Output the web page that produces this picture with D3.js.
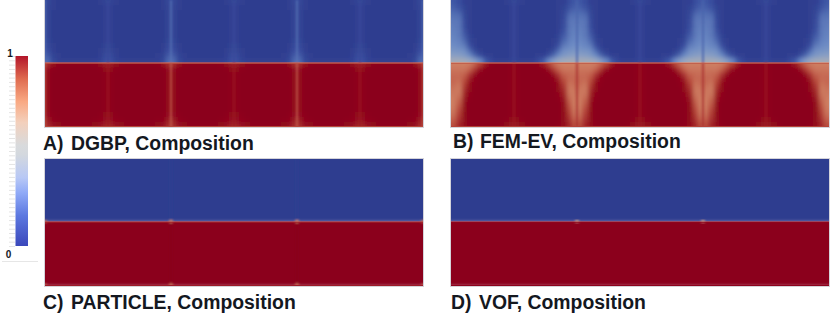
<!DOCTYPE html>
<html>
<head>
<meta charset="utf-8">
<style>
  body { margin: 0; background: #fff; }
  text { font-family: "Liberation Sans", sans-serif; fill: #14181f; }
</style>
<script src="https://d3js.org/d3.v7.min.js"></script>
</head>
<body>
<div id="chart"></div>
<script>
// half of one repeating tile, composition in percent. columns run away from the tile edge, rows top to bottom
const dgbpTile = [
  [5, 1, 0, 0, 0, 0, 0, 0, 0, 0, 1, 3],
  [4, 1, 0, 0, 0, 0, 0, 0, 0, 0, 0, 2],
  [4, 0, 0, 0, 0, 0, 0, 0, 0, 0, 0, 2],
  [4, 0, 0, 0, 0, 0, 0, 0, 0, 0, 0, 2],
  [4, 0, 0, 0, 0, 0, 0, 0, 0, 0, 0, 2],
  [4, 0, 0, 0, 0, 0, 0, 0, 0, 0, 0, 2],
  [4, 0, 0, 0, 0, 0, 0, 0, 0, 0, 0, 2],
  [4, 0, 0, 0, 0, 0, 0, 0, 0, 0, 0, 2],
  [5, 0, 0, 0, 0, 0, 0, 0, 0, 0, 0, 2],
  [6, 1, 0, 0, 0, 0, 0, 0, 0, 0, 0, 3],
  [8, 2, 0, 0, 0, 0, 0, 0, 0, 0, 1, 4],
  [12, 3, 1, 0, 0, 0, 0, 0, 0, 0, 2, 6],
  [16, 5, 2, 1, 1, 1, 1, 1, 1, 2, 3, 8],
  [90, 96, 98, 99, 99, 99, 99, 99, 99, 98, 97, 93],
  [95, 99, 100, 100, 100, 100, 100, 100, 100, 100, 99, 97],
  [96, 100, 100, 100, 100, 100, 100, 100, 100, 100, 100, 98],
  [96, 100, 100, 100, 100, 100, 100, 100, 100, 100, 100, 98],
  [96, 100, 100, 100, 100, 100, 100, 100, 100, 100, 100, 98],
  [96, 100, 100, 100, 100, 100, 100, 100, 100, 100, 100, 98],
  [96, 100, 100, 100, 100, 100, 100, 100, 100, 100, 100, 98],
  [96, 100, 100, 100, 100, 100, 100, 100, 100, 100, 100, 98],
  [96, 100, 100, 100, 100, 100, 100, 100, 100, 100, 100, 98],
  [96, 100, 100, 100, 100, 100, 100, 100, 100, 100, 100, 98],
  [95, 99, 100, 100, 100, 100, 100, 100, 100, 100, 99, 97],
  [93, 98, 99, 100, 100, 100, 100, 100, 100, 99, 98, 95],
  [90, 95, 97, 98, 98, 98, 98, 98, 98, 97, 95, 92]
]
const femTile = [
  [11, 7, 2, 1, 0, 0, 0, 0, 0, 0, 1, 3],
  [13, 9, 3, 1, 0, 0, 0, 0, 0, 0, 0, 2],
  [16, 13, 4, 1, 0, 0, 0, 0, 0, 0, 0, 2],
  [18, 17, 5, 1, 0, 0, 0, 0, 0, 0, 0, 2],
  [20, 19, 6, 1, 0, 0, 0, 0, 0, 0, 0, 2],
  [21, 19, 7, 1, 0, 0, 0, 0, 0, 0, 0, 2],
  [22, 20, 9, 2, 0, 0, 0, 0, 0, 0, 0, 2],
  [23, 20, 12, 3, 0, 0, 0, 0, 0, 0, 0, 2],
  [24, 22, 15, 4, 1, 0, 0, 0, 0, 0, 0, 2],
  [26, 24, 20, 8, 2, 0, 0, 0, 0, 0, 0, 2],
  [30, 29, 26, 16, 5, 1, 0, 0, 0, 0, 0, 2],
  [36, 35, 32, 25, 15, 7, 2, 1, 0, 0, 0, 2],
  [46, 46, 45, 42, 35, 24, 11, 5, 2, 1, 1, 3],
  [74, 74, 74, 75, 80, 87, 94, 98, 100, 100, 100, 98],
  [76, 76, 76, 80, 88, 95, 99, 100, 100, 100, 100, 98],
  [78, 78, 80, 88, 95, 99, 100, 100, 100, 100, 100, 98],
  [79, 78, 84, 93, 98, 100, 100, 100, 100, 100, 100, 98],
  [78, 76, 87, 96, 99, 100, 100, 100, 100, 100, 100, 98],
  [76, 75, 90, 97, 100, 100, 100, 100, 100, 100, 100, 98],
  [75, 76, 92, 98, 100, 100, 100, 100, 100, 100, 100, 98],
  [74, 79, 94, 99, 100, 100, 100, 100, 100, 100, 100, 98],
  [74, 82, 96, 100, 100, 100, 100, 100, 100, 100, 100, 98],
  [75, 85, 97, 100, 100, 100, 100, 100, 100, 100, 100, 98],
  [77, 87, 97, 100, 100, 100, 100, 100, 100, 100, 100, 98],
  [80, 89, 97, 100, 100, 100, 100, 100, 100, 100, 99, 97],
  [84, 91, 96, 98, 100, 100, 100, 100, 100, 99, 97, 94]
]
const particleTile = [[0], [100]]
const vofTile = [[0], [100]]

// element seams: [element index, value above the interface, value below it]
const dgbpSeams = [[0, 16, 82], [1, 6, 93], [2, 18, 80], [3, 6, 93], [4, 18, 80], [5, 6, 93], [6, 16, 82]]
const femSeams = [[1, 6, 93], [2, 14, 90], [3, 6, 93], [4, 14, 90], [5, 6, 93]]
const particleSeams = [[2, 2, 100], [4, 2, 100]]
const vofSeams = []

// small blemishes: [element index, 0 interface / 1 bottom edge, value]
const particleSpots = [[0, 0, 78], [2, 0, 72], [4, 0, 72], [6, 0, 78], [0, 1, 82], [2, 1, 76], [4, 1, 76], [6, 1, 82]]
const vofSpots = [[2, 0, 66], [4, 0, 66]]

// value of the thin line along the interface and along the bottom edge
const interfaceValues = { dgbp: 82, fem: 82, particle: 92, vof: 98 }
const rimValues = { dgbp: 85, fem: 86, particle: 93, vof: 99 }

const panelNames = ["dgbp", "fem", "particle", "vof"]
const panelLetters = ["A)", "B)", "C)", "D)"]
const panelTitles = ["DGBP, Composition", "FEM-EV, Composition", "PARTICLE, Composition", "VOF, Composition"]

const fieldDomain = [0, 10, 25, 40, 50, 65, 72, 85, 95, 100]
const fieldColors = ["#2e3c8f", "#3e55a4", "#6c8bc4", "#93a6c4", "#adadb0", "#c99f8c", "#d28769", "#b84a3c", "#960f20", "#8b001a"]

const barDomain = [0, 0.16, 0.28, 0.36, 0.48, 0.53, 0.65, 0.76, 0.88, 1]
const barColors = ["#3b48bb", "#5c78e0", "#90aaf7", "#b8c8f5", "#d3d8de", "#d8dadc", "#f3d0bc", "#f9a983", "#df6b4f", "#b3152a"]
const barTickCount = 44
const barLabels = ["0", "1"]

const width = 830
const height = 329

const layout = [
  { left: 45, right: 423, top: 0, bottom: 127, split: 62.5, labelX: 43, titleX: 71, labelY: 150 },
  { left: 451, right: 829, top: 0, bottom: 127, split: 62.5, labelX: 453, titleX: 480, labelY: 148 },
  { left: 45, right: 423, top: 159, bottom: 286, split: 221.5, labelX: 43, titleX: 71, labelY: 309 },
  { left: 451, right: 829, top: 159, bottom: 286, split: 221.5, labelX: 451, titleX: 479, labelY: 309 }
]

const color = d3.scaleLinear().domain(fieldDomain).range(fieldColors)

const svg = d3.select("#chart").append("svg")
  .attr("width", width)
  .attr("height", height)
  .style("display", "block")

const defs = svg.append("defs")

function addBlur(id, sigma) {
  defs.append("filter")
    .attr("id", id)
    .attr("x", "-5%").attr("y", "-20%")
    .attr("width", "110%").attr("height", "140%")
    .append("feGaussianBlur")
    .attr("stdDeviation", sigma)
}
addBlur("fieldBlur", 2.2)
addBlur("lineBlur", 0.9)

function addClip(id, x, y, w, h) {
  defs.append("clipPath").attr("id", id)
    .append("rect").attr("x", x).attr("y", y).attr("width", w).attr("height", h)
}

function drawPanel(name, tile, seams, spots, box) {
  const x = d3.scaleLinear().domain([0, 6]).range([box.left, box.right])
  const rows = tile.length
  const cols = tile[0].length
  const y = d3.scaleLinear().domain([0, rows / 2, rows]).range([box.top, box.split, box.bottom])

  // one tile is two elements wide, the second half mirrors the first
  const cells = []
  for (let k = -1; k < 4; k++) {
    for (let c = 0; c < cols * 2; c++) {
      const col = c < cols ? c : cols * 2 - 1 - c
      tile.forEach((row, r) => {
        cells.push({ k: k, c: c, r: r, value: row[col] })
      })
    }
  }

  addClip(name + "Panel", box.left, box.top, box.right - box.left, box.bottom - box.top)
  addClip(name + "Upper", box.left - 20, box.top - 20, box.right - box.left + 40, box.split - box.top + 20)
  addClip(name + "Lower", box.left - 20, box.split, box.right - box.left + 40, box.bottom - box.split + 20)

  const g = svg.append("g").attr("class", "panel " + name)

  g.append("rect")
    .attr("x", box.left - 0.5)
    .attr("y", box.top - 0.5)
    .attr("width", box.right - box.left + 1)
    .attr("height", box.bottom - box.top + 1)
    .attr("fill", "none")
    .attr("stroke", "#d4d3da")

  const clipped = g.append("g").attr("clip-path", "url(#" + name + "Panel)")

  const sides = [
    { id: "Upper", keep: d => d.r < rows / 2 },
    { id: "Lower", keep: d => d.r >= rows / 2 }
  ]
  sides.forEach(side => {
    clipped.append("g")
      .attr("clip-path", "url(#" + name + side.id + ")")
      .append("g")
      .attr("filter", "url(#fieldBlur)")
      .selectAll("rect")
      .data(cells.filter(side.keep))
      .enter().append("rect")
      .attr("shape-rendering", "crispEdges")
      .attr("x", d => x(d.k * 2 + d.c / cols))
      .attr("width", x(1 / cols) - x(0) + 1)
      // rows on the outside of a half run on so that the blur keeps its value up to the clip
      .attr("y", d => (d.r === 0 || d.r === rows / 2) ? y(d.r) - 12 : y(d.r))
      .attr("height", d => {
        const over = (d.r === 0 || d.r === rows / 2 || d.r === rows / 2 - 1 || d.r === rows - 1) ? 12 : 0
        return y(d.r + 1) - y(d.r) + over + 1
      })
      .attr("fill", d => color(d.value))
  })

  const lines = clipped.append("g").attr("filter", "url(#lineBlur)")

  seams.forEach(s => {
    lines.append("line")
      .attr("x1", x(s[0])).attr("x2", x(s[0]))
      .attr("y1", box.top).attr("y2", box.split)
      .attr("stroke", color(s[1]))
      .attr("stroke-width", 1.6)
    lines.append("line")
      .attr("x1", x(s[0])).attr("x2", x(s[0]))
      .attr("y1", box.split).attr("y2", box.bottom)
      .attr("stroke", color(s[2]))
      .attr("stroke-width", 1.6)
  })

  const edges = clipped.append("g").attr("clip-path", "url(#" + name + "Lower)")
  edges.append("line")
    .attr("x1", box.left).attr("x2", box.right)
    .attr("y1", box.split + 0.6).attr("y2", box.split + 0.6)
    .attr("stroke", color(interfaceValues[name]))
    .attr("stroke-width", 1.2)
  edges.append("line")
    .attr("x1", box.left).attr("x2", box.right)
    .attr("y1", box.bottom - 0.5).attr("y2", box.bottom - 0.5)
    .attr("stroke", color(rimValues[name]))
    .attr("stroke-width", 1.2)

  lines.selectAll("ellipse")
    .data(spots)
    .enter().append("ellipse")
    .attr("cx", d => x(d[0]))
    .attr("cy", d => d[1] === 0 ? box.split : box.bottom - 1)
    .attr("rx", 2.4)
    .attr("ry", 1.4)
    .attr("fill", d => color(d[2]))
}

drawPanel("dgbp", dgbpTile, dgbpSeams, [], layout[0])
drawPanel("fem", femTile, femSeams, [], layout[1])
drawPanel("particle", particleTile, particleSeams, particleSpots, layout[2])
drawPanel("vof", vofTile, vofSeams, vofSpots, layout[3])

// panel captions
panelNames.forEach((name, i) => {
  const box = layout[i]
  const label = svg.append("text")
    .attr("class", "caption")
    .attr("y", box.labelY)
    .style("font-size", "19.4px")
    .style("font-weight", 700)
  label.append("tspan").attr("x", box.labelX).text(panelLetters[i])
  label.append("tspan").attr("x", box.titleX).text(panelTitles[i])
})

// colour bar
const barY = d3.scaleLinear().domain([0, 1]).range([246, 56])
const gradient = defs.append("linearGradient")
  .attr("id", "barGradient")
  .attr("x1", 0).attr("y1", 1)
  .attr("x2", 0).attr("y2", 0)
gradient.selectAll("stop")
  .data(barDomain)
  .enter().append("stop")
  .attr("offset", d => d)
  .attr("stop-color", (d, i) => barColors[i])

svg.append("rect")
  .attr("x", 15.5)
  .attr("y", barY(1))
  .attr("width", 12.5)
  .attr("height", barY(0) - barY(1))
  .attr("fill", "url(#barGradient)")

const barAxis = d3.axisLeft(barY)
  .tickValues(d3.range(0, barTickCount + 1).map(d => d / barTickCount))
  .tickSize(6)
  .tickPadding(0)
  .tickFormat("")

const barTicks = svg.append("g")
  .attr("class", "bar-axis")
  .attr("transform", "translate(15,0)")
  .call(barAxis)
barTicks.select(".domain").remove()
barTicks.selectAll("line").attr("stroke", "#e4e4e4")

svg.selectAll("text.bar-label")
  .data(barLabels)
  .enter().append("text")
  .attr("class", "bar-label")
  .attr("x", d => d === "1" ? 10 : 8.5)
  .attr("y", d => d === "1" ? 57 : 257.5)
  .attr("text-anchor", "middle")
  .style("font-size", "10px")
  .style("font-weight", 700)
  .text(d => d)

svg.append("line")
  .attr("x1", 2).attr("x2", 38)
  .attr("y1", 261.5).attr("y2", 261.5)
  .attr("stroke", "#e6e6e6")
</script>
</body>
</html>
